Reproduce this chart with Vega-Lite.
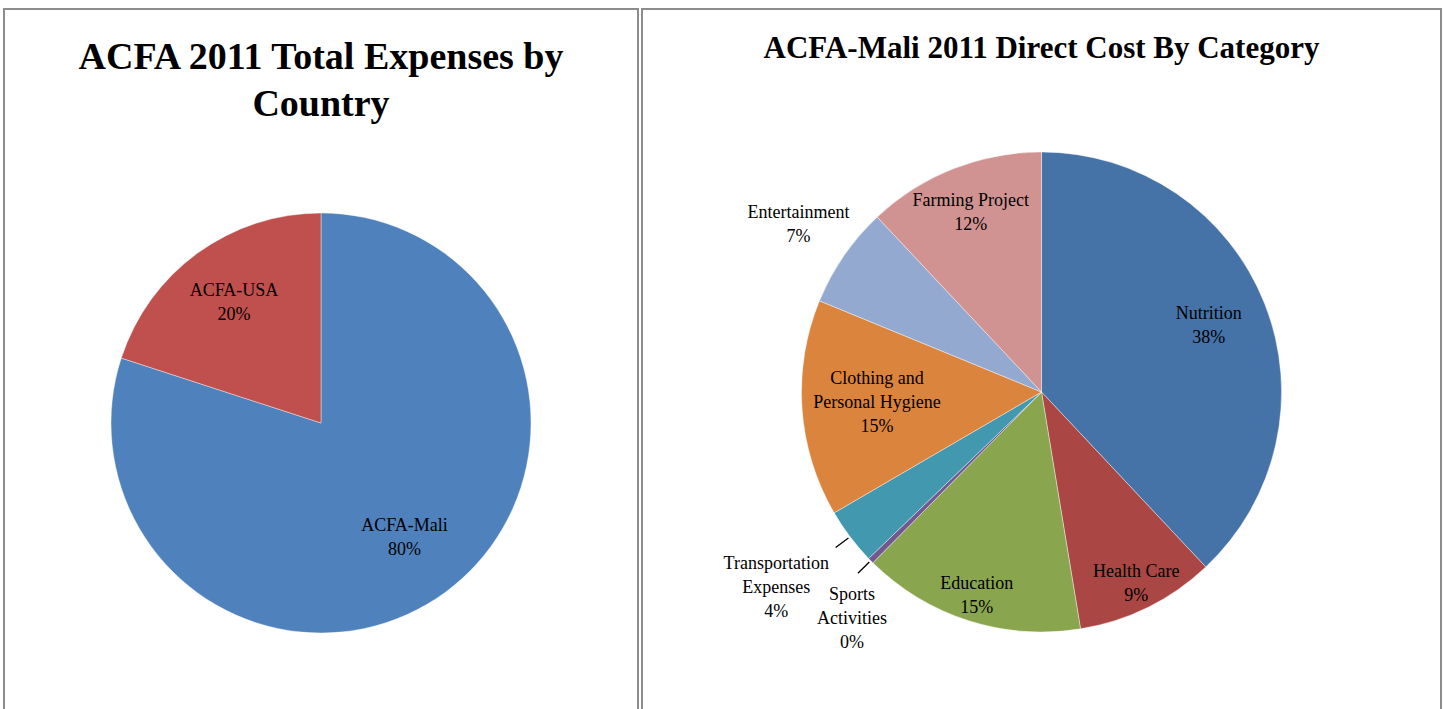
{
  "$schema": "https://vega.github.io/schema/vega-lite/v6.json",
  "background": "white",
  "padding": {"left": 3, "top": 8, "right": 0, "bottom": 0},
  "spacing": 2,
  "resolve": {"scale": {"color": "independent", "theta": "independent"}},
  "config": {
    "view": {"stroke": "#8c8c8c", "strokeWidth": 2},
    "title": {"font": "Liberation Serif", "fontWeight": "bold", "color": "black", "anchor": "middle", "frame": "group"}
  },
  "hconcat": [
    {
      "width": 634,
      "height": 828,
      "view": {"stroke": "#8c8c8c", "strokeWidth": 2, "fill": "white"},
      "title": {"text": ["ACFA 2011 Total Expenses by", "Country"], "fontSize": 38, "lineHeight": 47, "offset": -115},
      "data": {"values": [
        {"idx": 1, "country": "ACFA-Mali", "value": 80, "label": "ACFA-Mali\n80%"},
        {"idx": 2, "country": "ACFA-USA", "value": 20, "label": "ACFA-USA\n20%"}
      ]},
      "encoding": {
        "theta": {"field": "value", "type": "quantitative", "stack": true},
        "order": {"field": "idx", "type": "quantitative"}
      },
      "layer": [
        {
          "mark": {"type": "arc", "outerRadius": 210, "stroke": "white", "strokeWidth": 0.4},
          "encoding": {
            "color": {"field": "country", "type": "nominal", "scale": {"domain": ["ACFA-Mali", "ACFA-USA"], "range": ["#4F81BD", "#C0504D"]}, "legend": null}
          }
        },
        {
          "mark": {"type": "text", "radius": {"expr": "datum.country === 'ACFA-Mali' ? 142 : 148"}, "dy": -12, "font": "Liberation Serif", "fontSize": 18, "lineHeight": 24, "lineBreak": "\n", "color": "black", "baseline": "middle", "align": "center"},
          "encoding": {"text": {"field": "label", "type": "nominal"}}
        }
      ]
    },
    {
      "width": 799,
      "height": 766,
      "view": {"stroke": "#8c8c8c", "strokeWidth": 2, "fill": "white"},
      "title": {"text": "ACFA-Mali 2011 Direct Cost By Category", "fontSize": 31, "offset": -56},
      "data": {"values": [
        {"idx": 1, "category": "Nutrition", "value": 38.0, "label": "Nutrition\n38%"},
        {"idx": 2, "category": "Health Care", "value": 9.4, "label": "Health Care\n9%"},
        {"idx": 3, "category": "Education", "value": 15.0, "label": "Education\n15%"},
        {"idx": 4, "category": "Sports Activities", "value": 0.4, "label": "Sports\nActivities\n0%"},
        {"idx": 5, "category": "Transportation Expenses", "value": 3.8, "label": "Transportation\nExpenses\n4%"},
        {"idx": 6, "category": "Clothing and Personal Hygiene", "value": 14.6, "label": "Clothing and\nPersonal Hygiene\n15%"},
        {"idx": 7, "category": "Entertainment", "value": 6.8, "label": "Entertainment\n7%"},
        {"idx": 8, "category": "Farming Project", "value": 12.0, "label": "Farming Project\n12%"}
      ]},
      "encoding": {
        "theta": {"field": "value", "type": "quantitative", "stack": true},
        "order": {"field": "idx", "type": "quantitative"}
      },
      "layer": [
        {
          "mark": {"type": "arc", "outerRadius": 240, "stroke": "white", "strokeWidth": 0.4},
          "encoding": {
            "color": {"field": "category", "type": "nominal", "scale": {"domain": ["Nutrition", "Health Care", "Education", "Sports Activities", "Transportation Expenses", "Clothing and Personal Hygiene", "Entertainment", "Farming Project"], "range": ["#4572A7", "#AA4643", "#89A54E", "#71588F", "#4198AF", "#DB843D", "#93A9CF", "#D19392"]}, "legend": null}
          }
        },
        {
          "mark": {"type": "arc", "innerRadius": 242, "outerRadius": 258, "padAngle": 1, "fillOpacity": 0, "stroke": "black", "strokeWidth": 1.3},
          "encoding": {
            "strokeOpacity": {"condition": {"test": "datum.category === 'Sports Activities' || datum.category === 'Transportation Expenses'", "value": 1}, "value": 0}
          }
        },
        {
          "mark": {"type": "text",
            "radius": {"expr": "datum.category === 'Nutrition' ? 180 : datum.category === 'Health Care' ? 214 : datum.category === 'Education' ? 214 : datum.category === 'Sports Activities' ? 300 : datum.category === 'Transportation Expenses' ? 325 : datum.category === 'Clothing and Personal Hygiene' ? 165 : datum.category === 'Entertainment' ? 295 : 192"},
            "dx": {"expr": "datum.category === 'Sports Activities' ? 24 : datum.category === 'Transportation Expenses' ? -6 : 0"},
            "dy": {"expr": "-(length(split(datum.label, '\\n')) - 1) * 12 + (datum.category === 'Sports Activities' ? 16 : 0)"},
            "font": "Liberation Serif", "fontSize": 18, "lineHeight": 24, "lineBreak": "\n", "color": "black", "baseline": "middle", "align": "center"},
          "encoding": {"text": {"field": "label", "type": "nominal"}}
        }
      ]
    }
  ]
}
